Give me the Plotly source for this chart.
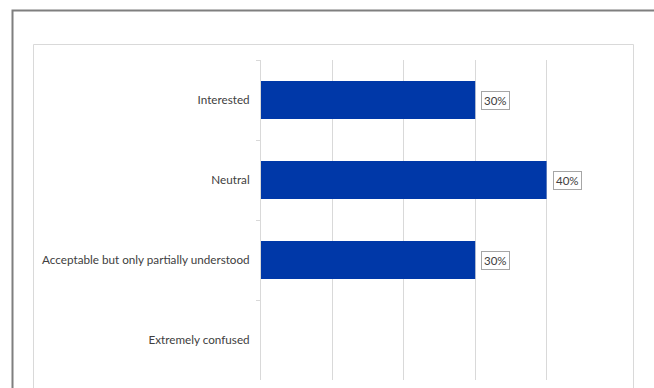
import plotly.graph_objects as go

# Survey response shares
categories = [
    "Interested",
    "Neutral",
    "Acceptable but only partially understood",
    "Extremely confused",
]
shares = [0.30, 0.40, 0.30, 0.0]
labels = ["30%", "40%", "30%", ""]

W, H = 654, 388
L, R, T, B = 261, 36, 60, 8
XMAX = 0.5

BAR = "#0038A8"
GRID = "#d9d9d9"
TEXT = "#404040"
FONT = "Lato"

fig = go.Figure()
fig.add_trace(go.Bar(
    y=categories,
    x=shares,
    orientation="h",
    marker=dict(color=BAR, line=dict(width=0)),
    width=0.475,
    hoverinfo="skip",
))

# value boxes beside each bar
for cat, val, lab in zip(categories, shares, labels):
    if not lab:
        continue
    fig.add_annotation(
        x=val, y=cat, text=lab, showarrow=False,
        xanchor="left", xshift=6,
        font=dict(family=FONT, size=11.5, color=TEXT),
        bgcolor="white", bordercolor="#a6a6a6", borderwidth=1, borderpad=2,
    )

pw = W - L - R
ph = H - T - B


def px_x(p):
    return (p - L) / pw


def px_y(p):
    return (H - B - p) / ph


# light frame around the chart area and dark outer frame
fig.add_shape(type="rect", xref="paper", yref="paper",
              x0=px_x(33.5), x1=px_x(633.5), y0=px_y(420), y1=px_y(44.5),
              line=dict(color=GRID, width=1), fillcolor="rgba(0,0,0,0)", layer="below")
fig.add_shape(type="rect", xref="paper", yref="paper",
              x0=px_x(12.5), x1=px_x(700), y0=px_y(430), y1=px_y(10.5),
              line=dict(color="#7f7f7f", width=2), fillcolor="rgba(0,0,0,0)", layer="below")

fig.update_layout(
    width=W, height=H,
    margin=dict(l=L, r=R, t=T, b=B),
    paper_bgcolor="white", plot_bgcolor="white",
    showlegend=False,
    font=dict(family=FONT, size=12, color=TEXT),
    bargap=0.5,
)
fig.update_xaxes(
    range=[0, XMAX], dtick=0.1, showgrid=True, gridcolor=GRID, gridwidth=1,
    showticklabels=False, zeroline=False, showline=False, fixedrange=True,
)
fig.update_yaxes(
    categoryorder="array", categoryarray=categories, autorange="reversed",
    showline=True, linecolor=GRID, linewidth=1,
    ticks="outside", tickson="boundaries", ticklen=4, tickcolor=GRID,
    ticklabelstandoff=8, showgrid=False,
    tickfont=dict(family=FONT, size=11.7, color=TEXT),
)

fig.write_html("out.html")
